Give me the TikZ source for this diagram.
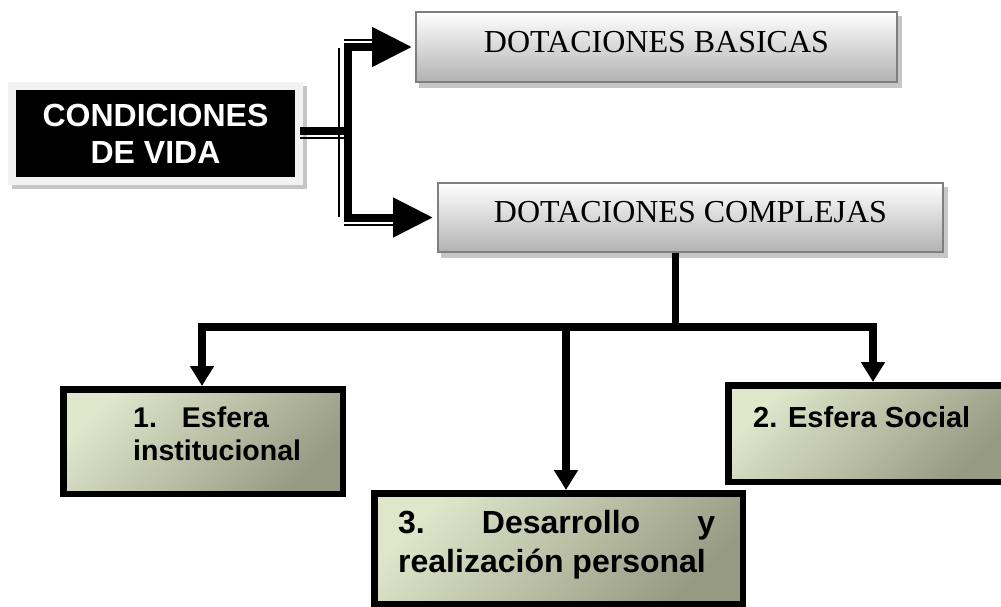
\documentclass[tikz,border=0pt]{standalone}
\usepackage{fontspec}
\setmainfont{Liberation Serif}
\setsansfont{Liberation Sans}
\usetikzlibrary{arrows.meta,calc}
\definecolor{boxlight}{HTML}{DFE6CA}
\definecolor{boxdark}{HTML}{979A83}
\definecolor{framegray}{HTML}{F2F2F2}
\definecolor{shadowgray}{HTML}{C6C6C6}
\definecolor{dotborder}{HTML}{7F7F7F}
\definecolor{dotbottom}{HTML}{B2B2B2}
\begin{document}
\begin{tikzpicture}[x=1pt,y=-1pt,
  dotbox/.style={draw=dotborder, line width=2pt, top color=white, bottom color=dotbottom,
    inner sep=0pt, text height=21pt, text depth=11pt, font=\fontsize{32}{36}\selectfont,
    preaction={fill=shadowgray, draw=shadowgray, transform canvas={shift={(4pt,-5pt)}}}},
  greenbox/.style={draw=black, line width=6.5pt, top color=boxlight, bottom color=boxdark,
    shading angle=45, inner sep=0pt},
  btext/.style={font=\sffamily\bfseries\fontsize{#1}{#1}\selectfont, inner sep=0pt, anchor=base west},
  treeline/.style={line width=7.5pt},
  smalltip/.style={-{Triangle[length=20pt,width=23pt]}},
  thickl/.style={line width=8pt},
  thinl/.style={line width=2pt},
  bigtip/.style={-{Triangle[length=40pt,width=38pt]}},
]
\useasboundingbox (0,0) rectangle (1001,606);
\clip (0,0) rectangle (1001,606);

% main box
\node[draw=framegray, line width=8pt, fill=black, minimum width=287pt, minimum height=95pt,
  inner sep=0pt, preaction={draw=shadowgray, fill=shadowgray, transform canvas={shift={(4pt,-4pt)}}},
  text=white, align=center, font=\sffamily\bfseries\fontsize{32}{37}\selectfont]
  (cond) at (155.5,133.5) {CONDICIONES\\DE VIDA};

% gray boxes
\node[dotbox, minimum width=481pt, minimum height=70pt] (basicas) at (656.5,47) {DOTACIONES BASICAS};
\node[dotbox, minimum width=505pt, minimum height=69pt] (complejas) at (690.5,217.5) {DOTACIONES COMPLEJAS};

% green boxes
\node[greenbox, minimum width=279.5pt, minimum height=104.5pt] (esf1) at (203,441.5) {};
\node[greenbox, minimum width=278.5pt, minimum height=96.5pt] (esf2) at (867.5,433.5) {};
\node[greenbox, minimum width=368.5pt, minimum height=110.5pt] (esf3) at (558.5,548.5) {};

\node[btext=28.5] (t1a) at (133,427) {1.\hspace{25pt}Esfera};
\node[btext=28.5] (t1b) at (133,460) {institucional};
\node[btext=29] (t2) at (753,427) {2. Esfera Social};
\node[btext=32] (t3a) at (398,533) {\hbox to 317pt{3.\hfill Desarrollo\hfill y}};
\node[btext=32] (t3b) at (398,572) {realización personal};

% tree connectors
\coordinate (tj) at (675.5,327);
\coordinate (d1) at (202,327);
\coordinate (d2) at (566,327);
\coordinate (d3) at (873,327);
\draw[treeline] (complejas.south -| tj) -- (tj);
\draw[treeline, smalltip] (tj) -| (d1 |- esf1.north);
\draw[treeline, smalltip] (tj) -| (d3 |- esf2.north);
\draw[treeline, smalltip] (d2) -- (d2 |- esf3.north);

% compound connectors
\coordinate (tv) at (347.5,130.5);
\draw[thickl] ($(cond.east)+(-3,-3)$) -- (tv);
\draw[thickl, bigtip, shorten >=3pt] (tv) |- (basicas.west);
\draw[thickl, bigtip, shorten >=4pt] (tv) |- (complejas.west);
\draw[thinl] ($(cond.east)+(-3,4)$) -- ++(45,0);
\draw[thinl] ($(tv)+(-8.5,-82.5)$) -- ($(tv)+(-8.5,86.5)$);
\draw[thinl] ($(basicas.west)+(-71,-7)$) -- ++(32,0);
\draw[thinl] ($(complejas.west)+(-93,7.5)$) -- ++(52,0);
\end{tikzpicture}
\end{document}
